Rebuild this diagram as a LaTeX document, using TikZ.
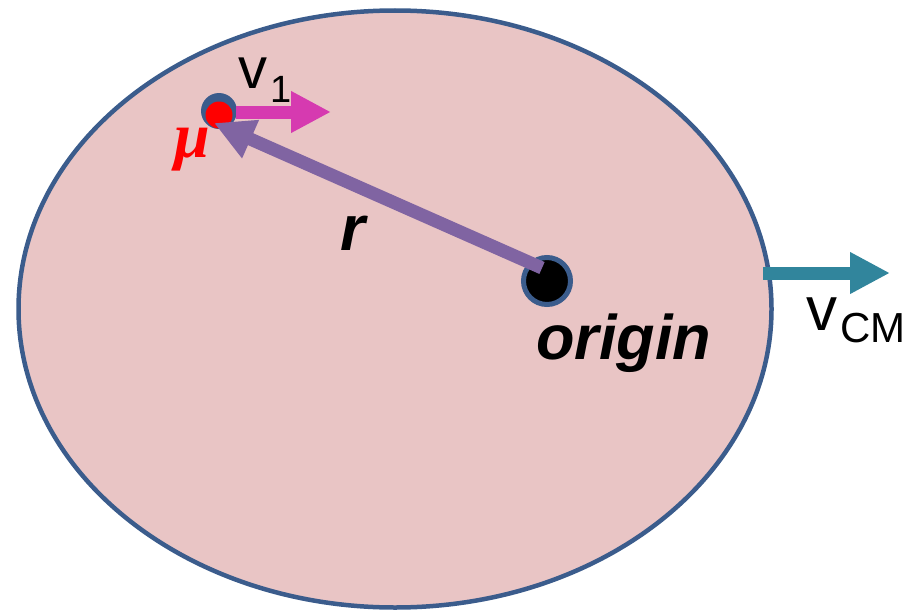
\documentclass[tikz,border=0pt]{standalone}
\usepackage{fontspec}
\setmainfont{Liberation Sans}
\newfontfamily\muserif{Liberation Serif}
\usetikzlibrary{arrows.meta,shapes.geometric}
\definecolor{ellfill}{RGB}{233,197,197}
\definecolor{ellline}{RGB}{59,92,140}
\definecolor{vonecol}{RGB}{214,58,176}
\definecolor{rcol}{RGB}{128,100,162}
\definecolor{vcmcol}{RGB}{49,133,156}
\definecolor{mured}{RGB}{255,0,0}
\tikzset{
  fatarrow/.style={line width=13pt,-{Triangle[length=40pt,width=39pt]}},
  lbl/.style={inner sep=0pt,anchor=base west},
}
\begin{document}
\begin{tikzpicture}[x=1pt,y=-1pt]
\useasboundingbox (0,0) rectangle (920,610);
% body
\node[draw=ellline,line width=4.5pt,fill=ellfill,ellipse,minimum width=753pt,minimum height=597pt,inner sep=0pt] (body) at (395,309) {};
% vCM arrow
\coordinate (cmstart) at (763,273);
\coordinate (cmend) at (890,273);
\draw[fatarrow,vcmcol] (cmstart) -- (cmend);
% origin
\node[circle,fill=black,draw=ellline,line width=5pt,minimum size=47pt,inner sep=0pt] (orig) at (547,281) {};
% mu particle
\node[circle,fill=ellline,minimum size=36pt,inner sep=0pt] (muring) at (219,111) {};
\node[circle,fill=mured,minimum size=27pt,inner sep=0pt] (mu) at (219,115) {};
% v1 arrow
\coordinate (vstart) at (236,112);
\coordinate (vend) at (331,112);
\draw[fatarrow,vonecol] (vstart) -- (vend);
% r arrow
\coordinate (rstart) at (542,268);
\coordinate (rend) at (214,123);
\draw[fatarrow,rcol] (rstart) -- (rend);
% labels
\node[lbl] (v1) at (238,88) {\fontsize{58}{60}\selectfont v};
\node[lbl] (v1sub) at (270,102) {\fontsize{38}{40}\selectfont 1};
\node[lbl,text=mured] (mulbl) at (174,157) {\fontsize{64}{66}\selectfont\muserif\bfseries\itshape μ};
\node[lbl] (rlbl) at (340,250) {\fontsize{64}{66}\selectfont\bfseries\itshape r};
\node[lbl] (origlbl) at (536,359) {\fontsize{63}{66}\selectfont\bfseries\itshape origin};
\node[lbl] (vcm) at (806,330) {\fontsize{62}{64}\selectfont v};
\node[lbl] (vcmsub) at (840,342) {\fontsize{42}{44}\selectfont CM};
\end{tikzpicture}
\end{document}
